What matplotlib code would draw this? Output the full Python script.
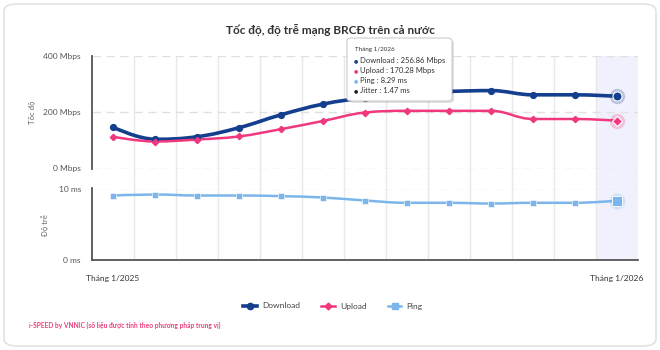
import numpy as np
import matplotlib
matplotlib.use('Agg')
import matplotlib.pyplot as plt
from matplotlib.path import Path
from matplotlib.patches import PathPatch, FancyBboxPatch
from matplotlib.lines import Line2D

plt.rcParams['font.family'] = ['Lato', 'DejaVu Sans']

months = ['Tháng %d/2025' % m for m in range(1, 13)] + ['Tháng 1/2026']
download = [147, 104, 113, 145, 191, 229, 252, 268, 274, 277, 262, 262, 256.86]
upload = [113, 96, 103, 114, 140, 169, 199, 205, 205, 205, 176, 176, 170.28]
ping = [9.02, 9.16, 9.02, 9.02, 8.93, 8.74, 8.32, 8.0, 8.0, 7.9, 8.0, 8.0, 8.29]
jitter_last = 1.47

C_DL = '#133f8e'
C_UL = '#f0387f'
C_PING = '#7cb5ec'
W, H = 660, 350


def fx(x):
    return x / W


def fy(y):
    return 1 - y / H


def spline_path(xs, ys, smoothing=1.5):
    # highcharts-like spline, built as bezier segments through the points
    n = len(xs)
    denom = smoothing + 1
    left = [(xs[i], ys[i]) for i in range(n)]
    right = [(xs[i], ys[i]) for i in range(n)]
    for i in range(1, n - 1):
        px, py = xs[i], ys[i]
        lx, ly = xs[i - 1], ys[i - 1]
        nx, ny = xs[i + 1], ys[i + 1]
        lcx = (smoothing * px + lx) / denom
        lcy = (smoothing * py + ly) / denom
        rcx = (smoothing * px + nx) / denom
        rcy = (smoothing * py + ny) / denom
        corr = (rcy - lcy) * (rcx - px) / (rcx - lcx) + py - rcy
        lcy += corr
        rcy += corr
        if lcy > ly and lcy > py:
            lcy = max(ly, py)
            rcy = 2 * py - lcy
        elif lcy < ly and lcy < py:
            lcy = min(ly, py)
            rcy = 2 * py - lcy
        if rcy > ny and rcy > py:
            rcy = max(ny, py)
            lcy = 2 * py - rcy
        elif rcy < ny and rcy < py:
            rcy = min(ny, py)
            lcy = 2 * py - rcy
        left[i] = (lcx, lcy)
        right[i] = (rcx, rcy)
    verts = [(xs[0], ys[0])]
    codes = [Path.MOVETO]
    for i in range(1, n):
        verts += [right[i - 1], left[i], (xs[i], ys[i])]
        codes += [Path.CURVE4] * 3
    return Path(verts, codes)


fig = plt.figure(figsize=(6.6, 3.5), dpi=100)

# card border
fig.patches.append(FancyBboxPatch((fx(4), fy(346)), fx(652), 342 / H,
                                  boxstyle='round,pad=0,rounding_size=0.02',
                                  transform=fig.transFigure, fc='white',
                                  ec='#e2e2e2', lw=1.2, zorder=0))

fig.text(0.5, fy(30), 'Tốc độ, độ trễ mạng BRCĐ trên cả nước', ha='center',
         va='center', fontsize=8.5, fontweight='bold', color='#333333')

x = np.arange(len(months))
L, R = fx(92), fx(638)

# background: vertical grid + highlight band
bg = fig.add_axes([L, fy(260), R - L, (260 - 56) / H], zorder=1)
bg.set_xlim(-0.5, len(months) - 0.5)
bg.set_ylim(0, 1)
bg.axvspan(len(months) - 1.5, len(months) - 0.5, color='#f1f1fd', lw=0)
for k in range(1, len(months)):
    bg.axvline(k - 0.5, color='#e8e8e8', lw=1)
bg.axis('off')

ax1 = fig.add_axes([L, fy(168.5), R - L, (168.5 - 56) / H], zorder=2)
ax2 = fig.add_axes([L, fy(260), R - L, (260 - 188.5) / H], zorder=2)

for ax in (ax1, ax2):
    ax.patch.set_alpha(0)
    ax.set_xlim(-0.5, len(months) - 0.5)
    for s in ('top', 'right', 'bottom'):
        ax.spines[s].set_visible(False)
    ax.spines['left'].set_color('#555555')
    ax.spines['left'].set_linewidth(1.3)
    ax.tick_params(length=0, labelsize=6, labelcolor='#555555', pad=8)

ax1.set_ylim(0, 400)
ax1.set_yticks([0, 200, 400])
ax1.set_yticklabels(['0 Mbps', '200 Mbps', '400 Mbps'])
ax1.set_xticks([])
for v in (0, 200, 400):
    ax1.axhline(v, color='#e0e0e0', lw=1, ls=(0, (6, 4)), zorder=0)

ax2.set_ylim(0, 10)
ax2.set_yticks([0, 10])
ax2.set_yticklabels(['0 ms', '10 ms'])
ax2.axhline(10, color='#e0e0e0', lw=1, ls=(0, (6, 4)), zorder=0)
ax2.spines['bottom'].set_visible(True)
ax2.spines['bottom'].set_color('#555555')
ax2.spines['bottom'].set_linewidth(1.3)
ax2.set_xticks([0, len(months) - 1])
ax2.set_xticklabels([months[0], months[-1]])
ax2.tick_params(axis='x', pad=11, labelcolor='#333333')

fig.text(fx(33), fy(112), 'Tốc độ', rotation=90, ha='center', va='center',
         fontsize=5.5, color='#666666')
fig.text(fx(45), fy(225), 'Độ trễ', rotation=90, ha='center', va='center',
         fontsize=5.5, color='#666666')

# series
ax1.add_patch(PathPatch(spline_path(x, download), fill=False, ec=C_DL, lw=2.6,
                        capstyle='round', zorder=3))
ax1.plot(x[:-1], download[:-1], ls='none', marker='o', ms=4.2, color=C_DL,
         zorder=4)
ax1.plot(x[-1], download[-1], ls='none', marker='o', ms=11, color=C_DL,
         alpha=0.25, mec='none', zorder=4)
ax1.plot(x[-1], download[-1], ls='none', marker='o', ms=6.5, color=C_DL,
         mec='white', mew=0.8, zorder=5)

ax1.add_patch(PathPatch(spline_path(x, upload), fill=False, ec=C_UL, lw=1.8,
                        zorder=3))
ax1.plot(x[:-1], upload[:-1], ls='none', marker='D', ms=3.2, color=C_UL,
         zorder=4)
ax1.plot(x[-1], upload[-1], ls='none', marker='o', ms=11, color=C_UL,
         alpha=0.25, mec='none', zorder=4)
ax1.plot(x[-1], upload[-1], ls='none', marker='D', ms=5.5, color=C_UL,
         mec='white', mew=0.8, zorder=5)

ax2.add_patch(PathPatch(spline_path(x, ping), fill=False, ec=C_PING, lw=1.8,
                        zorder=3))
ax2.plot(x[:-1], ping[:-1], ls='none', marker='s', ms=5, color=C_PING,
         mec='white', mew=0.4, zorder=4)
ax2.plot(x[-1], ping[-1], ls='none', marker='o', ms=11.5, color=C_PING,
         alpha=0.25, mec='none', zorder=4, clip_on=False)
ax2.plot(x[-1], ping[-1], ls='none', marker='s', ms=7, color=C_PING,
         mec='white', mew=0.6, zorder=5, clip_on=False)

# legend
handles = [
    Line2D([], [], color=C_DL, lw=2.6, marker='o', ms=4.5),
    Line2D([], [], color=C_UL, lw=1.8, marker='D', ms=3.5),
    Line2D([], [], color=C_PING, lw=1.8, marker='s', ms=5),
]
fig.legend(handles, ['Download', 'Upload', 'Ping'], loc='center',
           bbox_to_anchor=(fx(333), fy(306)), ncol=3, frameon=False,
           fontsize=6, handlelength=1.6, columnspacing=2.6, handletextpad=0.6,
           labelcolor='#444444')

fig.text(fx(29), fy(325), 'i-SPEED by VNNIC (số liệu được tính theo phương pháp trung vị)',
         fontsize=4.8, color='#e8407f', fontweight='bold', va='center')

# tooltip on the last month
tx0, ty0, tx1, ty1 = 347, 38, 452, 101
fig.patches.append(FancyBboxPatch((fx(tx0 + 2), fy(ty1 + 2)), (tx1 - tx0) / W,
                                  (ty1 - ty0) / H,
                                  boxstyle='round,pad=0,rounding_size=0.008',
                                  transform=fig.transFigure, fc='#000000',
                                  alpha=0.12, ec='none', zorder=8))
fig.patches.append(FancyBboxPatch((fx(tx0), fy(ty1)), (tx1 - tx0) / W,
                                  (ty1 - ty0) / H,
                                  boxstyle='round,pad=0,rounding_size=0.008',
                                  transform=fig.transFigure, fc='white',
                                  ec='#cccccc', lw=0.8, zorder=9))
fig.text(fx(355), fy(50), months[-1], fontsize=4.5, color='#333333',
         va='center', zorder=10)
rows = [
    (C_DL, 'Download : %.2f Mbps' % download[-1]),
    (C_UL, 'Upload : %.2f Mbps' % upload[-1]),
    (C_PING, 'Ping : %.2f ms' % ping[-1]),
    ('#222222', 'Jitter : %.2f ms' % jitter_last),
]
for i, (c, txt) in enumerate(rows):
    yy = 60.5 + i * 10
    fig.text(fx(356), fy(yy), '●', fontsize=3.5, color=c, ha='center',
             va='center', zorder=10, family='DejaVu Sans')
    fig.text(fx(360), fy(yy), txt, fontsize=5.5, color='#333333',
             va='center', zorder=10)

fig.savefig('out.png', dpi=100)
